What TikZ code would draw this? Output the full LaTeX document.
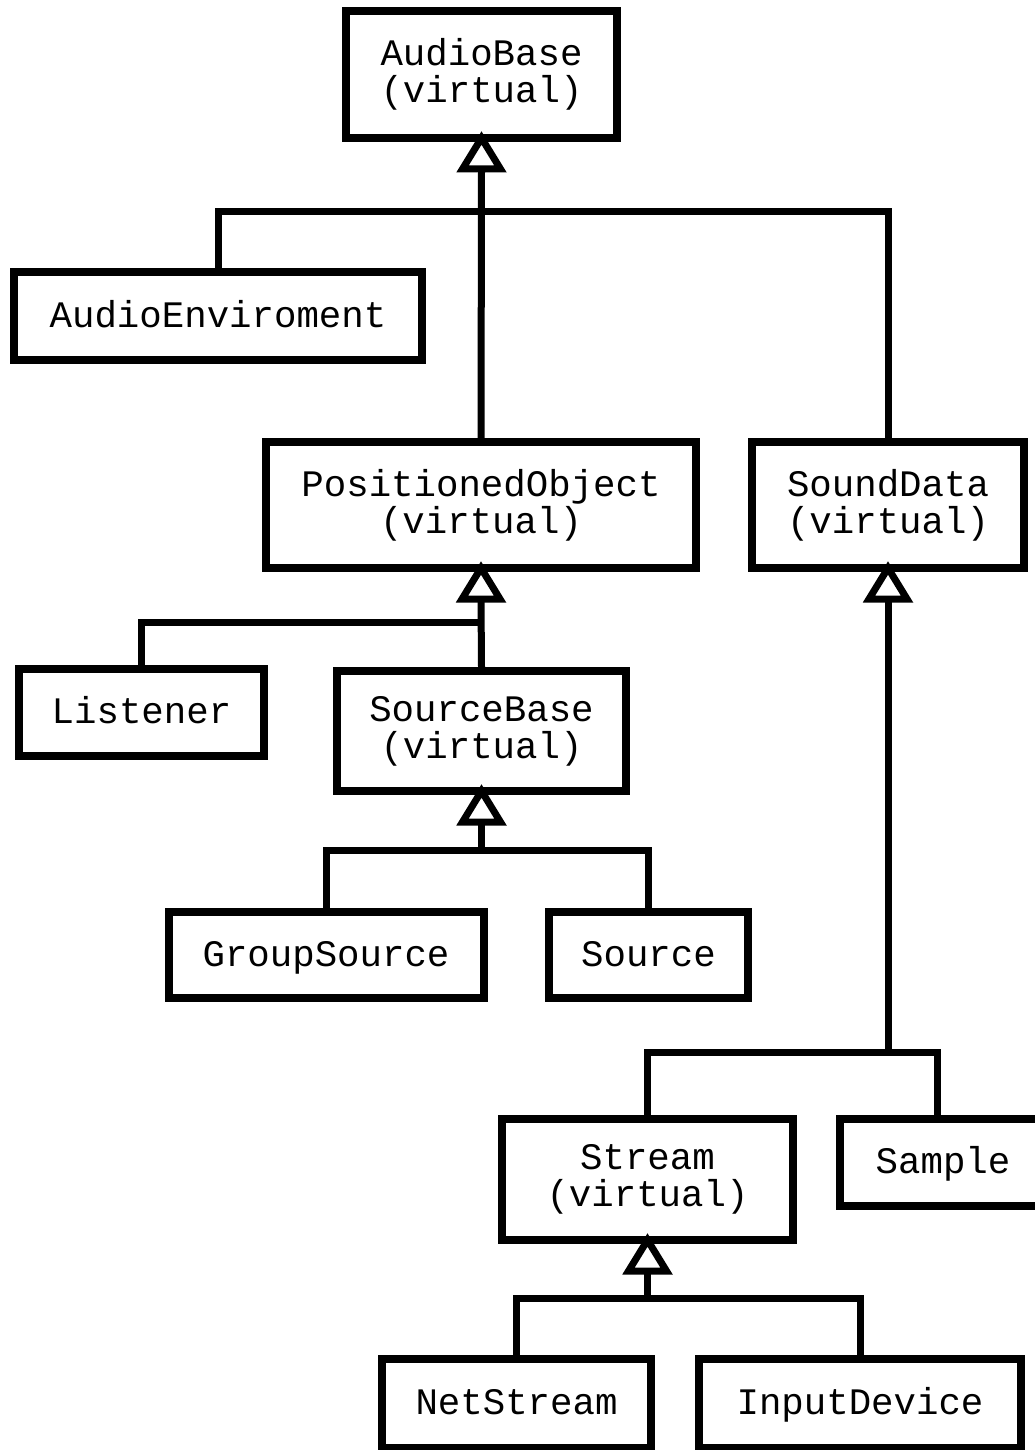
\documentclass[tikz,border=0pt]{standalone}
\usepackage{fontspec}
\setmainfont{Liberation Mono}
\usetikzlibrary{calc}
\tikzset{
  cls/.style={draw=black, line width=8pt, fill=white, inner sep=0pt,
    align=center, font=\fontsize{37.4}{37}\selectfont},
  one/.style={text height=22pt, text depth=0pt},
  conn/.style={draw=black, line width=7pt},
  tri/.style={draw=black, line width=7pt, fill=white, line join=miter}
}
\newcommand\inhtri[1]{\draw[tri] ($(#1.south)+(0,-4)$) -- ++(-19,31) -- ++(38,0) -- cycle;}
\begin{document}
\begin{tikzpicture}[x=1pt,y=-1pt]
\clip (0,0) rectangle (1035,1450);
\fill[white] (0,0) rectangle (1035,1450);
% classes
\node[cls, minimum width=271, minimum height=127] (ab) at (481.5,74.5) {AudioBase\\(virtual)};
\node[cls, one, minimum width=408, minimum height=88] (ae) at (218,316) {AudioEnviroment};
\node[cls, minimum width=430, minimum height=126] (po) at (481,505) {PositionedObject\\(virtual)};
\node[cls, minimum width=272, minimum height=126] (sd) at (888,505) {SoundData\\(virtual)};
\node[cls, one, minimum width=245, minimum height=87] (li) at (141.5,712.5) {Listener};
\node[cls, minimum width=289, minimum height=120] (sb) at (481.5,731) {SourceBase\\(virtual)};
\node[cls, one, minimum width=315, minimum height=86] (gs) at (326,955) {GroupSource};
\node[cls, one, minimum width=199, minimum height=86] (src) at (648.5,955) {Source};
\node[cls, minimum width=291, minimum height=121] (st) at (647.5,1179.5) {Stream\\(virtual)};
\node[cls, one, minimum width=206, minimum height=87] (sa) at (943,1162.5) {Sample};
\node[cls, one, minimum width=269, minimum height=89] (ns) at (516.5,1403.5) {NetStream};
\node[cls, one, minimum width=322, minimum height=89] (id) at (860,1403.5) {InputDevice};
% junctions
\coordinate (jab) at (481.5,211);
\coordinate (jpo) at (481,622);
\coordinate (jsb) at (481.5,850);
\coordinate (jsd) at (888,1052);
\coordinate (jst) at (647.5,1298);
% connectors
\draw[conn] (ae.north) |- (jab);
\draw[conn] (sd.north) |- (jab);
\draw[conn] (po.north) -- ($(ab.south)+(0,27)$);
\draw[conn] (li.north) |- (jpo);
\draw[conn] (sb.north) -- ($(po.south)+(0,27)$);
\draw[conn] (gs.north) |- (jsb);
\draw[conn] (src.north) |- (jsb);
\draw[conn] (jsb) -- ($(sb.south)+(0,27)$);
\draw[conn] (st.north) |- (jsd);
\draw[conn] ($(sa.north)+(-6,0)$) |- (jsd);
\draw[conn] (jsd) -- ($(sd.south)+(0,27)$);
\draw[conn] (ns.north) |- (jst);
\draw[conn] (id.north) |- (jst);
\draw[conn] (jst) -- ($(st.south)+(0,27)$);
% inheritance triangles
\inhtri{ab}
\inhtri{po}
\inhtri{sb}
\inhtri{sd}
\inhtri{st}
\end{tikzpicture}
\end{document}
